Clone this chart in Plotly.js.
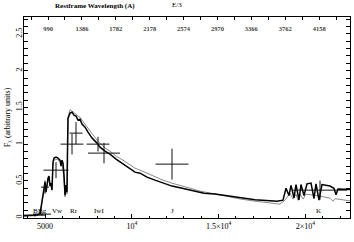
<!DOCTYPE html>
<html>
<head>
<meta charset="utf-8">
<script src="https://cdn.plot.ly/plotly-3.0.1.min.js"></script>
<style>html,body{margin:0;padding:0;background:#fff;}#chart{width:354px;height:242px;}</style>
</head>
<body>
<div id="chart"></div>
<script>
// Model spectrum 1 (black), observed wavelength (A) and flux
var blackWave = [3790, 4482, 4712, 4827, 4885, 4942, 5000, 5058, 5115, 5173, 5230, 5288, 5346, 5403, 5461, 5518, 5634, 5749, 5864, 5922, 5979, 6037, 6094, 6152, 6210, 6267, 6296, 6325, 6440, 6555, 6670, 6786, 6901, 7016, 7131, 7304, 7477, 7707, 7995, 8168, 8456, 8744, 9090, 9493, 9896, 10184, 10472, 10875, 11336, 11797, 12315, 12776, 13352, 13928, 14158, 14792, 15656, 16290, 17096, 17960, 18363, 18709, 18882, 19054, 19170, 19342, 19458, 19630, 19746, 19918, 20091, 20322, 20494, 20610, 20782, 20955, 21416, 21646, 21762, 21877, 22280, 22683];
var blackFlux = [0.027, 0.034, 0.048, 0.238, 0.347, 0.429, 0.483, 0.347, 0.456, 0.537, 0.565, 0.429, 0.469, 0.374, 0.755, 0.810, 0.823, 0.810, 0.782, 0.701, 0.782, 0.741, 0.578, 0.306, 0.442, 0.347, 0.918, 1.354, 1.422, 1.435, 1.395, 1.381, 1.327, 1.340, 1.272, 1.231, 1.163, 1.082, 1.014, 0.959, 0.905, 0.864, 0.796, 0.728, 0.660, 0.619, 0.605, 0.551, 0.510, 0.469, 0.429, 0.408, 0.374, 0.347, 0.333, 0.320, 0.293, 0.265, 0.245, 0.231, 0.224, 0.238, 0.40, 0.30, 0.44, 0.27, 0.45, 0.24, 0.45, 0.30, 0.46, 0.47, 0.26, 0.46, 0.24, 0.45, 0.43, 0.40, 0.31, 0.39, 0.39, 0.38];

// Model spectrum 2 (grey)
var greyWave = [3790, 4712, 4827, 4942, 5000, 5058, 5173, 5230, 5288, 5403, 5461, 5518, 5691, 5864, 5979, 6094, 6152, 6210, 6267, 6296, 6325, 6440, 6555, 6670, 6786, 6901, 7016, 7131, 7304, 7477, 7707, 7995, 8168, 8456, 8744, 9090, 9493, 9896, 10184, 10472, 10875, 11336, 11797, 12315, 12776, 13352, 13928, 14792, 15656, 16290, 17096, 17960, 18536, 18824, 19112, 19285, 19458, 19573, 19688, 19861, 20034, 20840, 21416, 21589, 21704, 22280, 22683];
var greyFlux = [0.020, 0.048, 0.211, 0.401, 0.456, 0.374, 0.510, 0.551, 0.442, 0.401, 0.741, 0.782, 0.796, 0.755, 0.741, 0.537, 0.279, 0.401, 0.320, 0.918, 1.354, 1.469, 1.449, 1.435, 1.408, 1.381, 1.367, 1.327, 1.272, 1.204, 1.136, 1.054, 1.014, 0.946, 0.905, 0.837, 0.782, 0.714, 0.673, 0.646, 0.605, 0.551, 0.510, 0.469, 0.442, 0.401, 0.361, 0.320, 0.286, 0.252, 0.224, 0.197, 0.184, 0.238, 0.333, 0.252, 0.320, 0.238, 0.320, 0.252, 0.320, 0.293, 0.265, 0.224, 0.258, 0.238, 0.224];

// Photometry: wavelength, flux, half-widths
var photWave = [4424, 4827, 5000, 5634, 6555, 6786, 8053, 8398, 12315, 20840];
var photFlux = [0.034, 0.048, 0.415, 0.646, 1.000, 1.150, 1.000, 0.878, 0.728, 0.374];
var photWaveErr = [634, 518, 230, 720, 660, 375, 660, 920, 950, 1550];
var photFluxErr = [0.02, 0.02, 0.09, 0.11, 0.14, 0.15, 0.10, 0.14, 0.21, 0.13];

// Band labels
var bandNames = ["B", "Bg", "Vw", "Rr", "IwI", "J", "K"];
var bandWave = [4480, 4830, 5720, 6670, 8100, 12315, 20782];
var bandY = 0.088;

// Restframe top-axis ticks
var restLabeled = [990, 1386, 1782, 2178, 2574, 2970, 3366, 3762, 4158];
var restMinor = [792, 1188, 1584, 1980, 2376, 2772, 3168, 3564, 3960, 4356];
var restScale = 4.93, restOffset = 292;

var bottomTicks = [5000, 10000, 15000, 20000];
var bottomLabels = ["5000", "10<sup>4</sup>", "1.5×10<sup>4</sup>", "2×10<sup>4</sup>"];
var yTicks = [0, 0.5, 1, 1.5, 2, 2.5];
var yLabels = ["0", "0.5", "1", "1.5", "2", "2.5"];

var xRange = [3790, 22568];
function restToObs(r) { return r * restScale + restOffset; }
var topPos = restLabeled.map(restToObs);
var topText = restLabeled.map(String);
var topMinorPos = restMinor.map(restToObs);

var serif = "Liberation Serif, Times New Roman, serif";

var traces = [
  { x: greyWave, y: greyFlux, mode: "lines", line: { color: "#8a8a8a", width: 1 }, hoverinfo: "skip" },
  { x: blackWave, y: blackFlux, mode: "lines", line: { color: "#000", width: 1.5 }, hoverinfo: "skip" },
  { x: photWave, y: photFlux, mode: "markers", marker: { size: 1, color: "rgba(0,0,0,0)" },
    error_x: { type: "data", array: photWaveErr, visible: true, width: 0, thickness: 1, color: "#111" },
    error_y: { type: "data", array: photFluxErr, visible: true, width: 0, thickness: 1, color: "#111" } },
  { x: [xRange[0]], y: [-1], xaxis: "x2", mode: "markers", marker: { opacity: 0 }, hoverinfo: "skip" }
];

var annotations = bandNames.map(function (n, i) {
  return { x: bandWave[i], y: bandY, xref: "x", yref: "y", text: n, showarrow: false,
    xanchor: "center", yanchor: "middle", font: { family: serif, size: 7, color: "#000" } };
});
// plot area spans 326 x 201 px; headings placed above it
annotations.push({ x: (95 - 24) / 326, y: 1 + (17 - 6) / 201, xref: "paper", yref: "paper",
  xanchor: "center", yanchor: "middle", text: "Restframe Wavelength (A)", showarrow: false,
  font: { family: serif, size: 7, color: "#000", weight: "bold" } });
annotations.push({ x: (177 - 24) / 326, y: 1 + (17 - 5) / 201, xref: "paper", yref: "paper",
  xanchor: "center", yanchor: "middle", text: "E/3", showarrow: false,
  font: { family: serif, size: 7, color: "#000" } });

var layout = {
  width: 354, height: 242,
  margin: { l: 24, r: 4, t: 17, b: 24, pad: 0 },
  paper_bgcolor: "#fff", plot_bgcolor: "#fff",
  showlegend: false,
  font: { family: serif, size: 8, color: "#000" },
  xaxis: {
    range: xRange, tickmode: "array", tickvals: bottomTicks, ticktext: bottomLabels,
    ticks: "inside", ticklen: 4, tickcolor: "#000", showline: true, linecolor: "#000", linewidth: 1,
    showgrid: false, zeroline: false, mirror: false,
    minor: { dtick: 1000, ticks: "inside", ticklen: 2, tickcolor: "#000" },
    tickfont: { family: serif, size: 8 }
  },
  xaxis2: {
    overlaying: "x", side: "top", range: xRange, tickmode: "array", tickvals: topPos, ticktext: topText,
    ticks: "inside", ticklen: 3, tickcolor: "#000", ticklabelposition: "inside", ticklabelstandoff: 5,
    showline: true, linecolor: "#000", linewidth: 1, showgrid: false, zeroline: false,
    minor: { tickmode: "array", tickvals: topMinorPos, ticks: "inside", ticklen: 3, tickcolor: "#000" },
    tickfont: { family: serif, size: 6.5, weight: "bold" }
  },
  yaxis: {
    range: [-0.005, 2.73], tickmode: "array", tickvals: yTicks, ticktext: yLabels, tickangle: -90,
    ticks: "inside", ticklen: 4, tickcolor: "#000", showline: true, linecolor: "#000", linewidth: 1,
    mirror: "allticks", showgrid: false, zeroline: false, ticklabelstandoff: -2,
    minor: { dtick: 0.1, ticks: "inside", ticklen: 2, tickcolor: "#000" },
    tickfont: { family: serif, size: 8 },
    title: { text: "F<sub>λ</sub> (arbitrary units)", font: { family: serif, size: 8 }, standoff: 2 }
  },
  annotations: annotations
};

Plotly.newPlot("chart", traces, layout, { staticPlot: true, displayModeBar: false });
</script>
</body>
</html>
